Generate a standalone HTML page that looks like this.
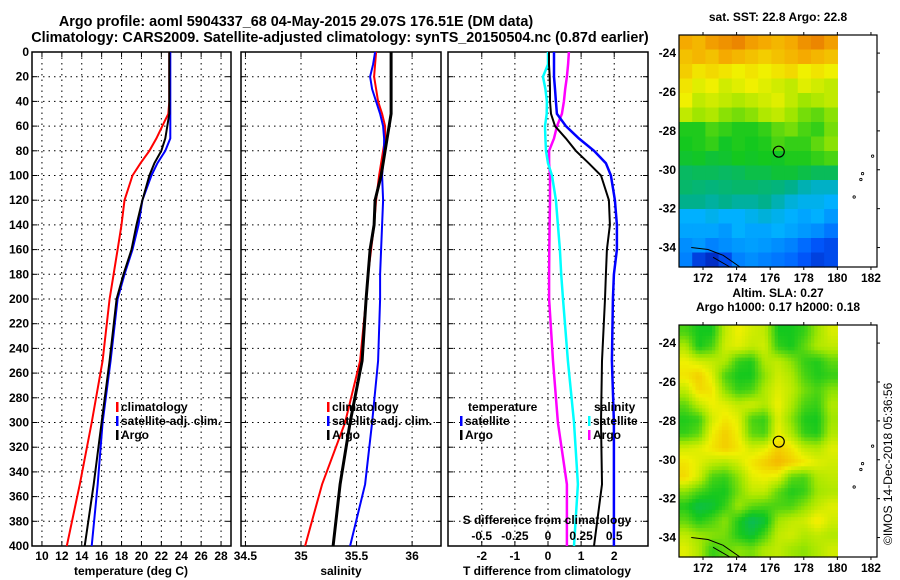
<!DOCTYPE html>
<html><head><meta charset="utf-8"><style>
html,body{margin:0;padding:0;background:#fff;}
svg{display:block;font-family:"Liberation Sans",sans-serif;font-weight:bold;}
</style></head><body>
<svg id="c" width="900" height="580" viewBox="0 0 900 580" xmlns="http://www.w3.org/2000/svg">
<text x="296" y="26" font-size="14.4" text-anchor="middle">Argo profile: aoml 5904337_68 04-May-2015 29.07S 176.51E (DM data)</text>
<text x="340" y="42" font-size="14.4" text-anchor="middle">Climatology: CARS2009. Satellite-adjusted climatology: synTS_20150504.nc (0.87d earlier)</text>
<text x="0" y="0" font-size="12" font-weight="normal" transform="translate(892,545) rotate(-90)">©IMOS 14-Dec-2018 05:36:56</text>
</svg>
<script>
const depths=[0,10,20,30,40,50,60,70,80,90,100,120,140,160,180,200,250,300,350,400];
const tempClim=[22.8,22.8,22.8,22.8,22.8,22.7,22.1,21.5,20.8,19.9,19.1,18.3,18.0,17.6,17.2,16.8,16.1,15.0,13.8,12.5];
const tempSat=[22.9,22.9,22.9,22.9,22.9,22.9,22.9,22.9,22.4,21.6,21.0,20.1,19.7,19.1,18.3,17.6,16.9,16.1,15.6,15.0];
const tempArgo=[22.8,22.8,22.8,22.8,22.8,22.8,22.6,22.4,22.0,21.3,20.8,20.1,19.5,19.0,18.2,17.5,16.8,16.0,15.2,14.3];
const salClim=[35.676,35.667,35.658,35.676,35.694,35.730,35.757,35.757,35.739,35.721,35.703,35.676,35.658,35.631,35.604,35.586,35.532,35.397,35.190,35.037];
const salSat=[35.667,35.649,35.622,35.640,35.676,35.712,35.739,35.748,35.748,35.739,35.730,35.739,35.730,35.721,35.712,35.712,35.694,35.640,35.577,35.442];
const salArgo=[35.811,35.811,35.811,35.811,35.811,35.811,35.793,35.775,35.757,35.739,35.721,35.667,35.658,35.622,35.604,35.586,35.550,35.442,35.352,35.289];
const tDiffSat=[0.18,0.18,0.18,0.21,0.24,0.27,0.54,0.93,1.39,1.75,1.90,2.02,2.08,2.08,1.99,1.96,1.93,1.99,1.99,1.99];
const tDiffArgo=[0.03,0.03,0.05,0.06,0.06,0.09,0.21,0.54,0.84,1.23,1.60,1.84,1.87,1.78,1.75,1.72,1.63,1.60,1.63,1.39];
const sDiffSat=[0,0,-0.038,-0.02,-0.008,-0.01,-0.023,-0.02,-0.015,0,0.03,0.06,0.075,0.09,0.1,0.113,0.15,0.196,0.226,0.196];
const sDiffArgo=[0.158,0.152,0.143,0.13,0.12,0.105,0.068,0.045,0.008,0.008,0.015,0.015,0.012,0.01,0.008,0.008,0.038,0.075,0.143,0.143];
const depthTicks=[0,20,40,60,80,100,120,140,160,180,200,220,240,260,280,300,320,340,360,380,400];
const tTicks=[10,12,14,16,18,20,22,24,26,28];
const sTicks=[34.5,35,35.5,36];
const dTicks=[-2,-1,0,1,2];
const sdTicks=[-0.5,-0.25,0,0.25,0.5];
const sstGrid=[
[.9,.88,.92,.94,.96,.92,.9,.88,.9,.94,.96,.92],
[.86,.88,.86,.9,.88,.86,.84,.86,.88,.9,.88,.86],
[.84,.8,.82,.8,.78,.8,.78,.8,.82,.78,.8,.78],
[.8,.76,.78,.74,.76,.78,.76,.74,.72,.76,.74,.72],
[.78,.72,.74,.72,.7,.72,.74,.76,.72,.68,.7,.72],
[.72,.68,.7,.66,.64,.66,.7,.72,.68,.64,.62,.66],
[.56,.56,.6,.58,.56,.56,.58,.62,.64,.6,.58,.64],
[.55,.56,.58,.54,.56,.55,.56,.6,.58,.58,.62,.66],
[.53,.54,.52,.53,.55,.54,.55,.54,.56,.56,.58,.6],
[.47,.48,.48,.47,.48,.5,.5,.52,.52,.5,.48,.48],
[.46,.45,.44,.45,.46,.46,.45,.44,.42,.38,.36,.36],
[.42,.42,.4,.42,.4,.4,.42,.38,.34,.32,.32,.3],
[.3,.3,.32,.3,.3,.32,.34,.32,.3,.28,.3,.26],
[.28,.28,.28,.26,.3,.28,.28,.3,.28,.26,.24,.2],
[.24,.26,.22,.24,.26,.27,.26,.24,.22,.18,.14,.12],
[.22,.1,.06,.12,.22,.24,.22,.2,.18,.14,.1,.12]];
const slaGrid=[
[.6,.55,.55,.72,.78,.74,.72,.55,.55,.58,.68,.75],
[.7,.55,.6,.74,.76,.72,.74,.58,.55,.62,.7,.72],
[.78,.74,.72,.7,.58,.56,.7,.72,.66,.58,.56,.62],
[.8,.84,.76,.6,.55,.55,.66,.74,.7,.6,.56,.58],
[.72,.82,.8,.66,.58,.6,.7,.76,.72,.64,.6,.66],
[.62,.72,.78,.76,.72,.74,.7,.78,.7,.6,.58,.7],
[.56,.58,.74,.8,.76,.6,.58,.76,.66,.56,.55,.68],
[.58,.62,.78,.84,.78,.62,.6,.78,.7,.58,.56,.7],
[.74,.76,.8,.84,.8,.74,.76,.84,.8,.72,.7,.76],
[.8,.76,.72,.7,.74,.8,.84,.88,.84,.8,.76,.74],
[.82,.74,.6,.58,.66,.76,.78,.76,.62,.6,.7,.72],
[.66,.6,.56,.55,.64,.72,.72,.62,.56,.58,.68,.7],
[.56,.5,.52,.58,.68,.62,.6,.6,.6,.66,.72,.76],
[.62,.56,.6,.66,.56,.48,.52,.68,.72,.74,.8,.74],
[.72,.68,.66,.64,.56,.52,.6,.72,.74,.7,.72,.7],
[.76,.7,.58,.62,.66,.64,.7,.72,.68,.66,.7,.74]];
const lonTicks=[172,174,176,178,180,182];
const latTicks=[-24,-26,-28,-30,-32,-34];
const argoLon=176.51, argoLat=-29.07;

const NS='http://www.w3.org/2000/svg';
const svg=document.getElementById('c');
function mk(tag,attrs,parent){const e=document.createElementNS(NS,tag);for(const k in attrs)e.setAttribute(k,attrs[k]);(parent||svg).appendChild(e);return e;}
const PT=52,PB=546;
const yD=d=>PT+(d/400)*(PB-PT);
function panel(name,x0,x1,vmin,vmax){
  const g=mk('g',{});
  
  
  return {g,x:v=>x0+(v-vmin)/(vmax-vmin)*(x1-x0),x0,x1};
}
function frame(p,vt,labels,fmt){
  mk('rect',{x:p.x0,y:PT,width:p.x1-p.x0,height:PB-PT,fill:'none',stroke:'#000','stroke-width':1.5},p.g);
  depthTicks.forEach(d=>{if(d>0&&d<400)mk('line',{x1:p.x0,x2:p.x1,y1:yD(d),y2:yD(d),stroke:'#000','stroke-width':1,'stroke-dasharray':'1.5,4'},p.g);
    mk('line',{x1:p.x0,x2:p.x0+5,y1:yD(d),y2:yD(d),stroke:'#000'},p.g);mk('line',{x1:p.x1-5,x2:p.x1,y1:yD(d),y2:yD(d),stroke:'#000'},p.g);});
  vt.forEach(v=>{const x=p.x(v);mk('line',{x1:x,x2:x,y1:PT,y2:PB,stroke:'#000','stroke-dasharray':'1.5,4'},p.g);
    mk('line',{x1:x,x2:x,y1:PB-5,y2:PB,stroke:'#000'},p.g);mk('line',{x1:x,x2:x,y1:PT,y2:PT+5,stroke:'#000'},p.g);
    if(labels){const t=mk('text',{x:x,y:560,'font-size':12,'text-anchor':'middle'},p.g);t.textContent=fmt(v);
      }});
}
function line(p,vals,color,w,name){
  const pts=vals.map((v,i)=>p.x(v).toFixed(1)+','+yD(depths[i]).toFixed(1)).join(' ');
  const l=mk('polyline',{points:pts,fill:'none',stroke:color,'stroke-width':w},p.g);
  
  
}
function txt(x,y,s,name,size,anchor,parent){const t=mk('text',{x,y,'font-size':size||12,'text-anchor':anchor||'start'},parent);t.textContent=s;
  return t;}
function legItem(x,y,color,label,parent){mk('rect',{x:x,y:y-9,width:2.5,height:10,fill:color},parent);txt(x+5,y,label,'legend-entry',12,'start',parent);}

depthTicks.forEach(d=>txt(29,yD(d)+4,String(d),'y-tick-label',12,'end'));

const p1=panel('temperature-panel',32,231,9,29);
frame(p1,tTicks,true,v=>String(v));
line(p1,tempClim,'#f00',2,'temp-climatology-line');
line(p1,tempSat,'#00f',2,'temp-satellite-line');
line(p1,tempArgo,'#000',2,'temp-argo-line');
legItem(116,411,'#f00','climatology',p1.g);legItem(116,425,'#00f','satellite-adj. clim.',p1.g);legItem(116,439,'#000','Argo',p1.g);
txt(131,575,'temperature (deg C)','x-axis-title',12,'middle',p1.g);

const p2=panel('salinity-panel',241,441,34.46,36.26);
frame(p2,sTicks,true,v=>String(v));
line(p2,salClim,'#f00',2,'sal-climatology-line');
line(p2,salSat,'#00f',2,'sal-satellite-line');
line(p2,salArgo,'#000',3,'sal-argo-line');
legItem(327,411,'#f00','climatology',p2.g);legItem(327,425,'#00f','satellite-adj. clim.',p2.g);legItem(327,439,'#000','Argo',p2.g);
txt(341,575,'salinity','x-axis-title',12,'middle',p2.g);

const p3=panel('difference-panel',448,648,-3.02,3.02);
frame(p3,dTicks,true,v=>String(v));
const xs=v=>p3.x(v*4);
line({x:xs,g:p3.g},sDiffArgo,'#f0f',2.5,'sdiff-argo-line');
line({x:xs,g:p3.g},sDiffSat,'#0ff',2.5,'sdiff-satellite-line');
line(p3,tDiffSat,'#00f',2.5,'tdiff-satellite-line');
line(p3,tDiffArgo,'#000',2,'tdiff-argo-line');
txt(468,411,'temperature','legend-title',12,'start',p3.g);
legItem(460,425,'#00f','satellite',p3.g);legItem(460,439,'#000','Argo',p3.g);
txt(594,411,'salinity','legend-title',12,'start',p3.g);
legItem(588,425,'#0ff','satellite',p3.g);legItem(588,439,'#f0f','Argo',p3.g);
txt(547,524,'S difference from climatology','s-axis-title',12,'middle',p3.g);
sdTicks.forEach(v=>txt(xs(v),540,String(v),'s-tick-label',12,'middle',p3.g));
txt(547,575,'T difference from climatology','x-axis-title',12,'middle',p3.g);

const stops=[[0,[0,16,160]],[0.15,[0,90,255]],[0.3,[0,176,255]],[0.42,[0,176,140]],[0.55,[20,200,30]],[0.68,[160,230,0]],[0.78,[240,240,0]],[0.9,[245,170,0]],[1,[230,110,0]]];
function cmap(v){v=Math.max(0,Math.min(1,v));for(let i=1;i<stops.length;i++){if(v<=stops[i][0]){const a=stops[i-1],b=stops[i],t=(v-a[0])/(b[0]-a[0]);
  return 'rgb('+a[1].map((c,k)=>Math.round(c+(b[1][k]-c)*t)).join(',')+')';}}return 'rgb(230,110,0)';}
function sample(grid,fr,fc){const R=grid.length,C=grid[0].length;
  fr=Math.max(0,Math.min(R-1,fr));fc=Math.max(0,Math.min(C-1,fc));
  const r0=Math.floor(fr),c0=Math.floor(fc),r1=Math.min(R-1,r0+1),c1=Math.min(C-1,c0+1),tr=fr-r0,tc=fc-c0;
  return (grid[r0][c0]*(1-tc)+grid[r0][c1]*tc)*(1-tr)+(grid[r1][c0]*(1-tc)+grid[r1][c1]*tc)*tr;}

function map(name,top,bot,grid,titleLines,sub){
  const g=mk('g',{});
  const L=679,R=877,lonMin=170.57,lonMax=182.36,latTop=-23.07,latBot=-35.0;
  const xl=lon=>L+(lon-lonMin)/(lonMax-lonMin)*(R-L);
  const yl=lat=>top+(latTop-lat)/(latTop-latBot)*(bot-top);
  const rows=grid.length,cols=grid[0].length,xe=xl(180);
  const nr=rows*sub,nc=cols*sub,ch=(bot-top)/nr,cw=(xe-L)/nc;
  for(let r=0;r<nr;r++)for(let c=0;c<nc;c++){
    const v=sub>1?sample(grid,(r+0.5)/sub-0.5,(c+0.5)/sub-0.5):grid[r][c];
    const cell=mk('rect',{x:(L+c*cw).toFixed(2),y:(top+r*ch).toFixed(2),width:(cw+0.6).toFixed(2),height:(ch+0.6).toFixed(2),fill:cmap(v)},g);
    
    }
  mk('rect',{x:L,y:top,width:R-L,height:bot-top,fill:'none',stroke:'#000','stroke-width':1.2},g);
  mk('path',{d:`M${xl(171.3)} ${yl(-34)} L${xl(172.3)} ${yl(-34.1)} L${xl(173.2)} ${yl(-34.4)} L${xl(174.2)} ${yl(-35)} M${xl(172.6)} ${yl(-34.5)} L${xl(173.6)} ${yl(-35)}`,fill:'none',stroke:'#000','stroke-width':1},g);
  [[181,-31.4],[181.4,-30.5],[181.5,-30.2],[182.1,-29.3]].forEach(p=>mk('circle',{cx:xl(p[0]),cy:yl(p[1]),r:1.2,fill:'none',stroke:'#000','stroke-width':0.8},g));
  const c=mk('circle',{cx:xl(argoLon),cy:yl(argoLat),r:5.5,fill:'none',stroke:'#000','stroke-width':1.2},g);
  
  
  lonTicks.forEach(l=>{mk('line',{x1:xl(l),x2:xl(l),y1:top-3,y2:top,stroke:'#000'},g);mk('line',{x1:xl(l),x2:xl(l),y1:bot,y2:bot+3,stroke:'#000'},g);
    txt(xl(l),bot+15,String(l),'lon-tick-label',12,'middle',g);});
  latTicks.forEach(l=>{mk('line',{x1:R,x2:R+3,y1:yl(l),y2:yl(l),stroke:'#000'},g);txt(676,yl(l)+4,String(l),'lat-tick-label',12,'end',g);});
  titleLines.forEach((s,i)=>txt(778,top-14-(titleLines.length-1-i)*14,s,'map-title',12,'middle',g));
}
map('sst-map',35,267,sstGrid,['sat. SST: 22.8 Argo: 22.8'],1);
map('sla-map',325,557,slaGrid,['Altim. SLA: 0.27','Argo h1000: 0.17 h2000: 0.18'],4);
</script>
</body></html>
